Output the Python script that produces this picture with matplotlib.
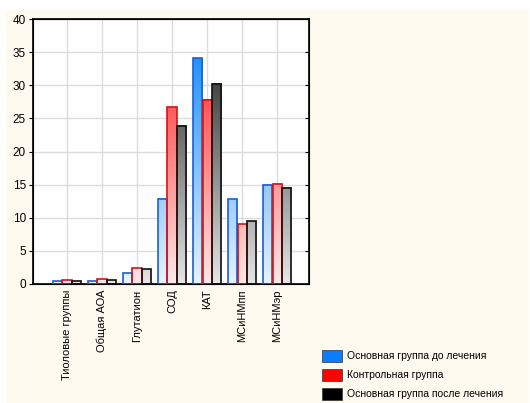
import numpy as np
import matplotlib.pyplot as plt
from matplotlib.colors import LinearSegmentedColormap
from matplotlib.patches import Rectangle

plt.rcParams['font.family'] = ['Liberation Sans', 'DejaVu Sans']

categories = ["Тиоловые группы", "Общая АОА", "Глутатион", "СОД", "КАТ",
              "МСиНМпп", "МСиНМэр"]
before = [0.4, 0.5, 1.7, 12.9, 34.1, 12.8, 15.0]
control = [0.6, 0.7, 2.4, 26.7, 27.8, 9.0, 15.1]
after = [0.5, 0.6, 2.2, 23.9, 30.2, 9.5, 14.5]
series_names = ["Основная группа до лечения", "Контрольная группа",
                "Основная группа после лечения"]

# light -> saturated, colour depends on height on the value axis
grads = [
    LinearSegmentedColormap.from_list("b", ["#e8f3ff", "#1a8cff"]),
    LinearSegmentedColormap.from_list("r", ["#ffe8e8", "#ff2a2a"]),
    LinearSegmentedColormap.from_list("k", ["#e6e6e6", "#262626"]),
]
edges = ["#1c5fd0", "#d41414", "#111111"]
legend_cols = ["#0a7cff", "#ff0000", "#000000"]

bg = "#fffaf0"
W, H = 530, 403
fig = plt.figure(figsize=(5.3, 4.03), dpi=100, facecolor="white")
# cream panel behind everything
fig.patches.append(Rectangle((6 / W, 0), 523 / W, 1 - 10 / H,
                             transform=fig.transFigure, facecolor=bg,
                             edgecolor="none", zorder=-10))

ax = fig.add_axes([33 / W, 1 - 284 / H, 276 / W, 265 / H])
ax.set_facecolor("white")

x = np.arange(len(categories))
w = 0.26
offsets = [-0.27, 0.0, 0.27]
vmax = 36

for vals, off, cmap, ec in zip([before, control, after], offsets, grads, edges):
    for xi, v in zip(x, vals):
        x0 = xi + off - w / 2
        g = np.linspace(0, v, 200).reshape(-1, 1)
        ax.imshow(g, cmap=cmap, vmin=0, vmax=vmax, origin="lower",
                  extent=(x0, x0 + w, 0, v), aspect="auto", zorder=2)
        ax.add_patch(Rectangle((x0, 0), w, v, fill=False, edgecolor=ec,
                               linewidth=1.2, zorder=3))

ax.set_xlim(-0.97, 6.91)
ax.set_ylim(0, 40)
ax.set_yticks(np.arange(0, 41, 5))
ax.set_xticks(x)
ax.set_xticklabels(categories, rotation=90, fontsize=8)
ax.tick_params(axis="y", labelsize=8.5, direction="out", length=3, pad=2)
ax.tick_params(axis="x", direction="in", length=3, pad=4)
ax.grid(True, color="#dcdcdc", linewidth=1, zorder=0)
ax.set_axisbelow(True)
for s in ax.spines.values():
    s.set_linewidth(1.2)
    s.set_color("black")

# inward ticks on the right side
axr = ax.twinx()
axr.set_ylim(ax.get_ylim())
axr.set_yticks(np.arange(0, 41, 5))
axr.tick_params(axis="y", direction="in", length=3, labelright=False)

# legend in the lower right corner
for i, (name, c) in enumerate(zip(series_names, legend_cols)):
    yy = 1 - (356 + i * 19) / H
    fig.patches.append(Rectangle((322 / W, yy - 6 / H), 20 / W, 12 / H,
                                 transform=fig.transFigure, facecolor=c,
                                 edgecolor="#333333", linewidth=0.5))
    fig.text(347 / W, yy, name, fontsize=7.5, va="center", ha="left")

fig.savefig("out.png", dpi=100, facecolor="white")
